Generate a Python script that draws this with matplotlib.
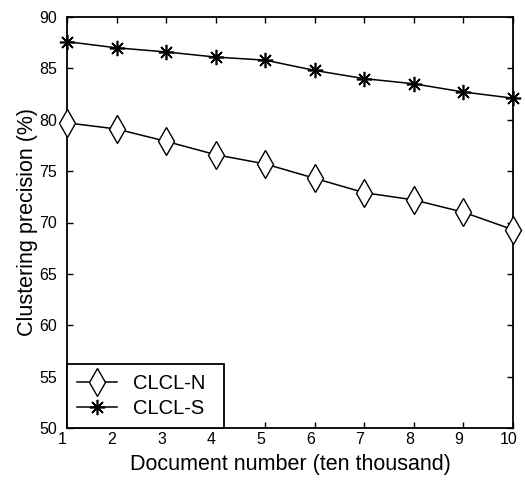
import numpy as np
import matplotlib
matplotlib.use("Agg")
import matplotlib.pyplot as plt
import matplotlib.transforms as mtransforms

plt.rcParams['font.family'] = ['Liberation Sans', 'DejaVu Sans']

docNumber = [1, 2, 3, 4, 5, 6, 7, 8, 9, 10]
clclN = [79.7, 79.1, 77.9, 76.6, 75.7, 74.3, 72.9, 72.2, 71.0, 69.3]
clclS = [87.6, 87.0, 86.6, 86.1, 85.8, 84.8, 84.0, 83.5, 82.7, 82.1]

fig = plt.figure(figsize=(5.25, 4.84), dpi=100)
ax = fig.add_axes([67/525, 1 - 428/484, (513-67)/525, (428-17)/484])

ax.plot(docNumber, clclN, color='k', lw=1.1, marker='d', markersize=14,
        markerfacecolor='white', markeredgecolor='k', markeredgewidth=1.0,
        label='CLCL-N', clip_on=False, zorder=3)
ax.plot(docNumber, clclS, color='k', lw=1.1, marker=(8, 2, 0), markersize=11,
        markeredgewidth=1.2, markeredgecolor='k',
        label='CLCL-S', clip_on=False, zorder=3)

ax.set_xlim(1, 10)
ax.set_ylim(50, 90)
ax.set_xticks(range(1, 11))
ax.set_yticks(range(50, 91, 5))
ax.tick_params(direction='in', top=True, right=True, labelsize=11.5, length=4, width=1)
ax.tick_params(axis='x', pad=3)
ax.tick_params(axis='y', pad=7)
for s in ax.spines.values():
    s.set_linewidth(1.3)

# x tick labels sit a little left of their ticks in the original
shift = mtransforms.ScaledTranslation(-4.5/100, 0, fig.dpi_scale_trans)
for lbl in ax.get_xticklabels():
    lbl.set_transform(lbl.get_transform() + shift)

ax.set_xlabel('Document number (ten thousand)', fontsize=15.5, labelpad=5)
ax.set_ylabel('Clustering precision (%)', fontsize=15.5, labelpad=1)

leg = ax.legend(loc='lower left', bbox_to_anchor=(0, 0, 157/446, 64/411), mode='expand',
                fancybox=False, edgecolor='k', framealpha=1,
                fontsize=14.5, borderaxespad=0, handlelength=2.0, borderpad=0.5,
                labelspacing=0.3, handletextpad=0.8)
leg.get_frame().set_linewidth(1.3)

fig.savefig('out.png', dpi=100)
